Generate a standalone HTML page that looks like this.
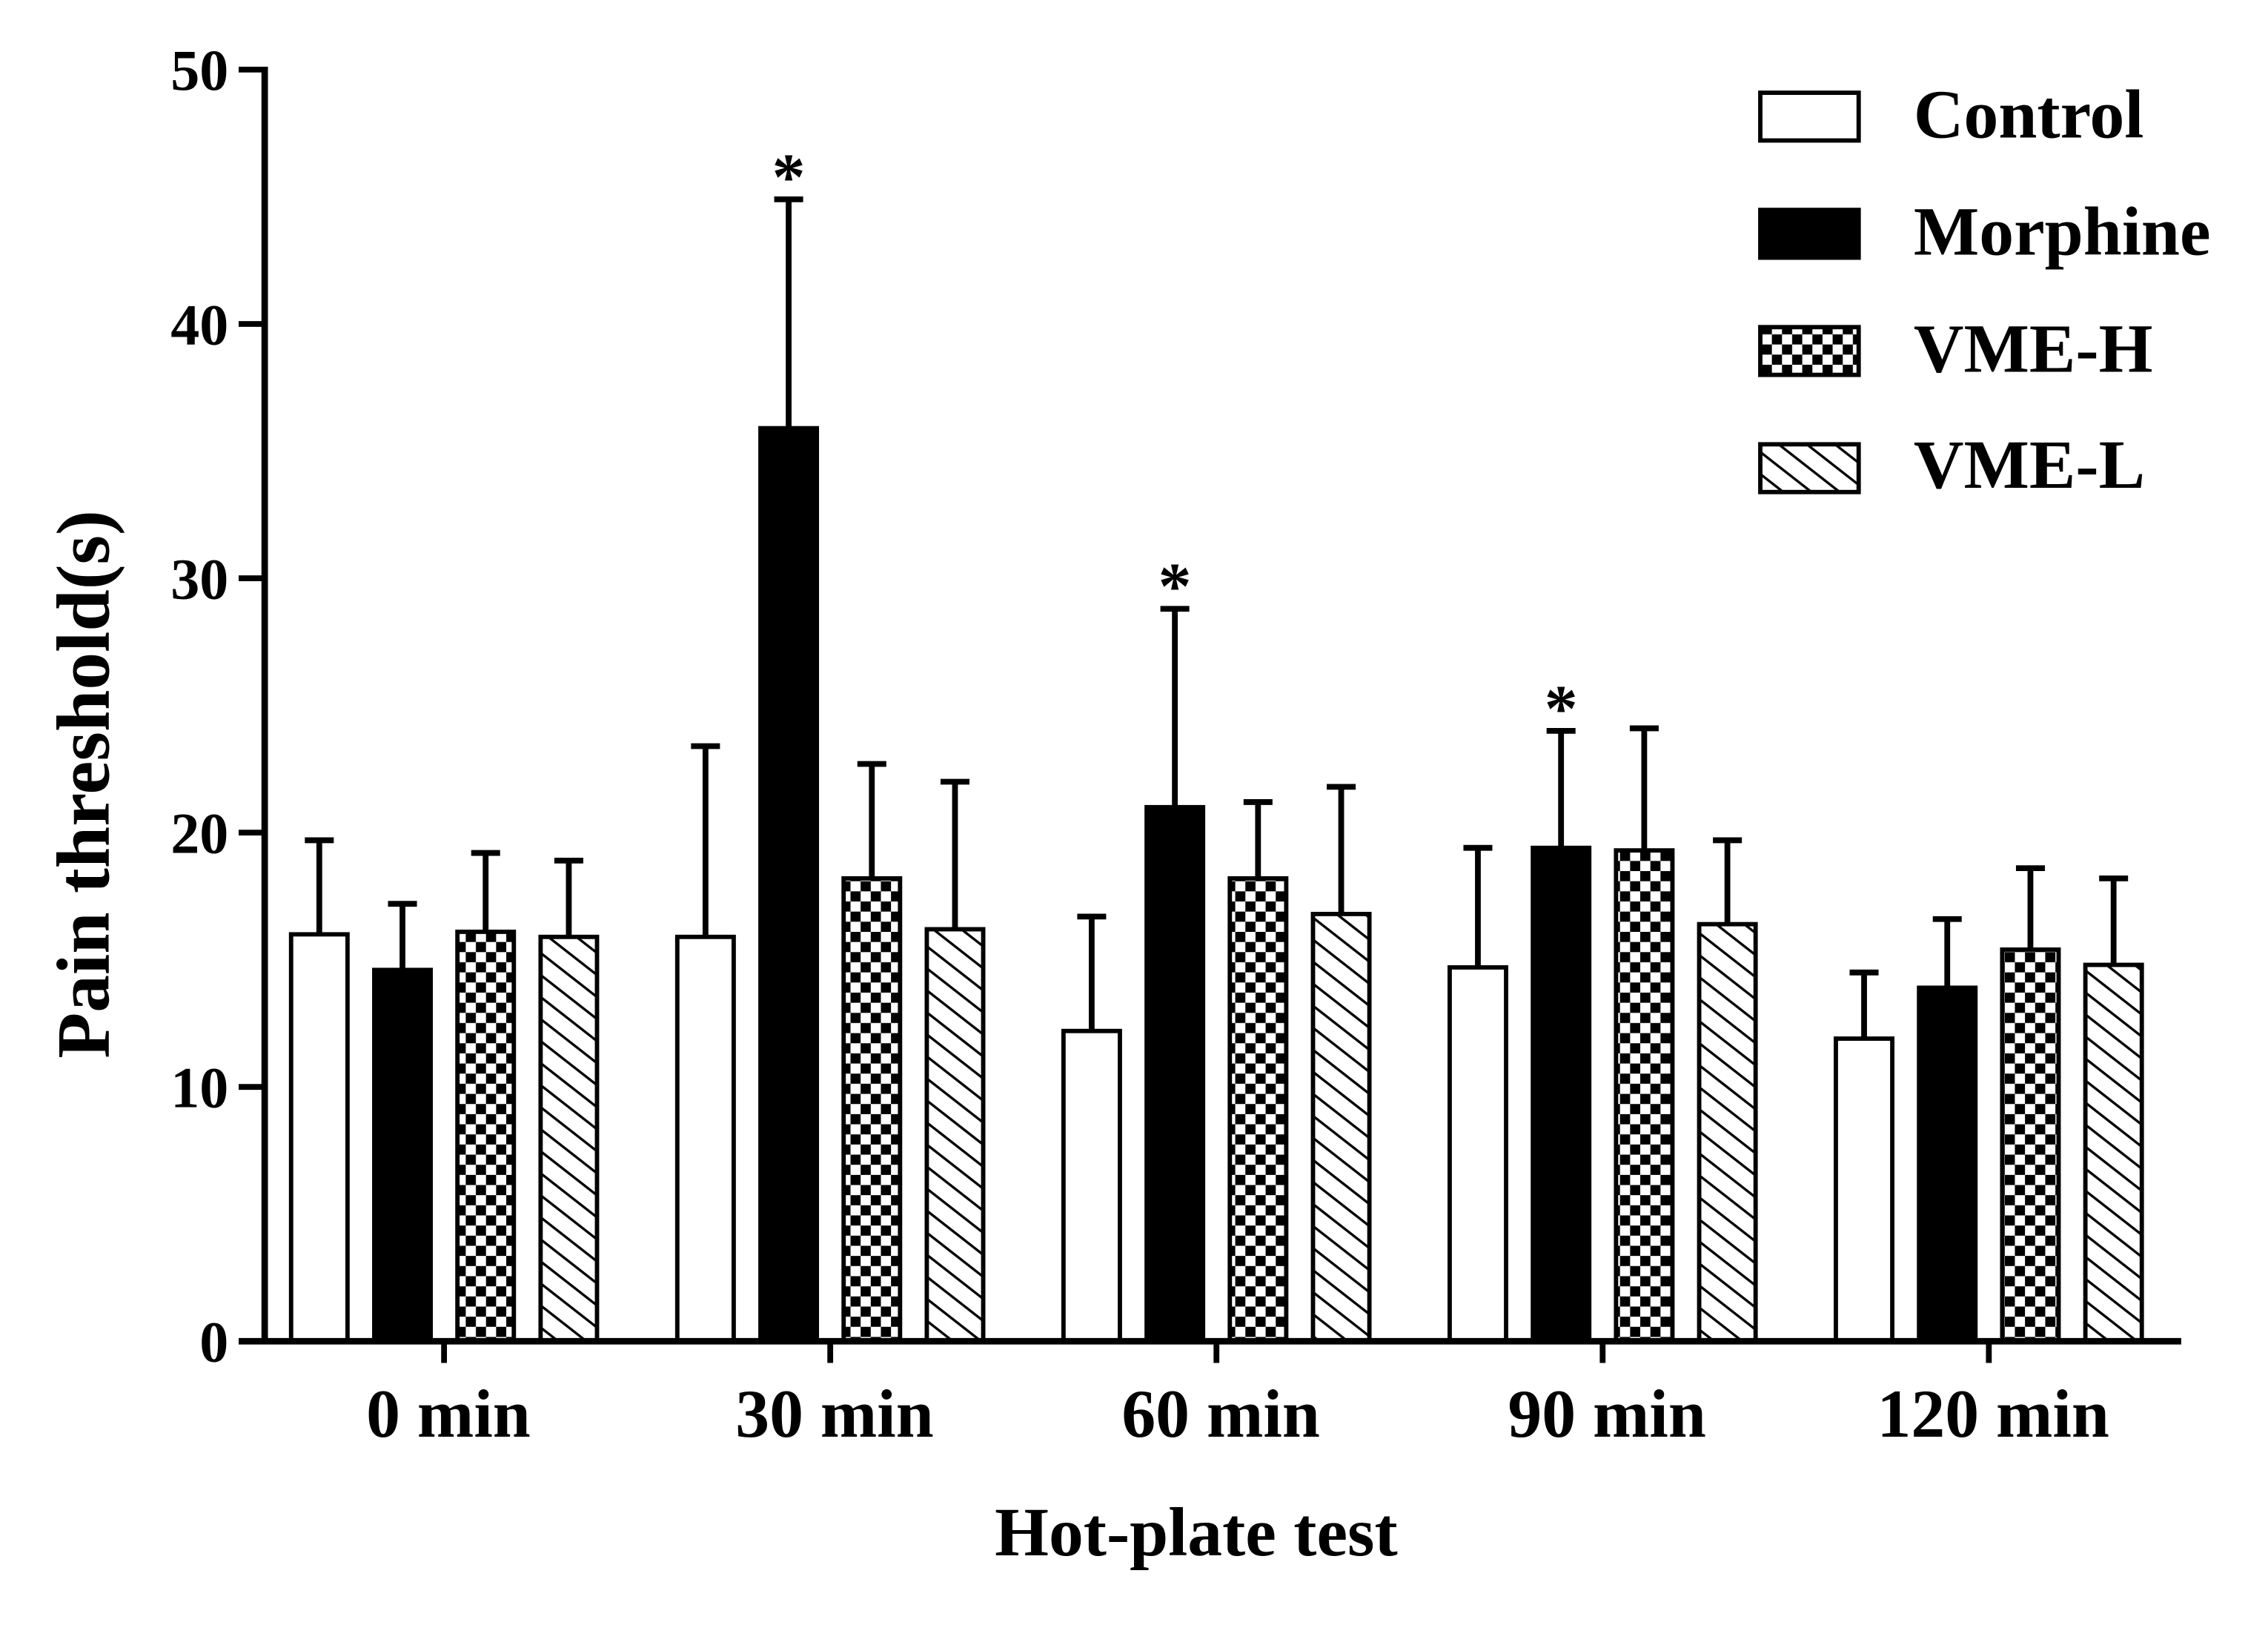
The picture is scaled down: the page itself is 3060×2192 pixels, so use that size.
<!DOCTYPE html>
<html><head><meta charset="utf-8"><style>
html,body{margin:0;padding:0;background:#fff}
svg{display:block}
text{font-family:"Liberation Serif",serif;font-weight:bold;fill:#000}
</style></head><body>
<svg id="chart" width="3060" height="2192" viewBox="0 0 1568 1123" xmlns="http://www.w3.org/2000/svg">
<defs>
<pattern id="checker" patternUnits="userSpaceOnUse" width="14" height="14">
<rect width="14" height="14" fill="#fff"/><rect width="7" height="7" fill="#000"/><rect x="7" y="7" width="7" height="7" fill="#000"/>
</pattern>
<pattern id="hatch" patternUnits="userSpaceOnUse" width="12" height="12" patternTransform="rotate(38)">
<rect width="12" height="12" fill="#fff"/><line x1="0" y1="0" x2="12" y2="0" stroke="#000" stroke-width="3.5"/>
</pattern>
</defs>
<g id="plot"></g>
<text transform="translate(75,542) rotate(-90)" text-anchor="middle" font-size="52">Pain threshold(s)</text>
<text x="827" y="1075" text-anchor="middle" font-size="48">Hot-plate test</text>
<g>
<rect x="1217" y="64" width="68" height="33" fill="#fff" stroke="#000" stroke-width="3"/>
<text x="1323" y="95" font-size="48">Control</text>
<rect x="1217" y="145" width="68" height="33" fill="#000" stroke="#000" stroke-width="3"/>
<text x="1323" y="176" font-size="48">Morphine</text>
<rect x="1217" y="226" width="68" height="33" fill="url(#checker)" stroke="#000" stroke-width="3"/>
<text x="1323" y="257" font-size="48">VME-H</text>
<rect x="1217" y="307" width="68" height="33" fill="url(#hatch)" stroke="#000" stroke-width="3"/>
<text x="1323" y="337" font-size="48">VME-L</text>
</g>
</svg>
<script>
const categories = ["0 min","30 min","60 min","90 min","120 min"];
const seriesNames = ["Control","Morphine","VME-H","VME-L"];
const controlMean = [16.0,15.9,12.2,14.7,11.9];
const controlErr = [3.7,7.5,4.5,4.7,2.6];
const morphineMean = [14.6,35.9,21.0,19.4,13.9];
const morphineErr = [2.6,9.0,7.8,4.6,2.7];
const vmehMean = [16.1,18.2,18.2,19.3,15.4];
const vmehErr = [3.1,4.5,3.0,4.8,3.2];
const vmelMean = [15.9,16.2,16.8,16.4,14.8];
const vmelErr = [3.0,5.8,5.0,3.3,3.4];
const significant = [false,true,true,true,false];
const yTicks = [0,10,20,30,40,50];

const NS="http://www.w3.org/2000/svg";
const g=document.getElementById('plot');
const y0=927, yTop=48, yMax=50;
const yScale=v=>y0-(v/yMax)*(y0-yTop);
const groupX=i=>307+i*267;
const barW=39, pitch=57.5;
function mk(tag,attrs){const e=document.createElementNS(NS,tag);for(const k in attrs)e.setAttribute(k,attrs[k]);g.appendChild(e);return e;}
const means=[controlMean,morphineMean,vmehMean,vmelMean];
const errs=[controlErr,morphineErr,vmehErr,vmelErr];
const fills=["#fff","#000","url(#checker)","url(#hatch)"];
const keys=["control","morphine","vme-h","vme-l"];
categories.forEach((c,i)=>{
  for(let s=0;s<4;s++){
    const cx=groupX(i)+(s-1.5)*pitch;
    const top=yScale(means[s][i]), et=yScale(means[s][i]+errs[s][i]);
    const eb=mk('line',{x1:cx,x2:cx,y1:top,y2:et,stroke:'#000','stroke-width':4});
    
    
    const cap=mk('line',{x1:cx-10,x2:cx+10,y1:et,y2:et,stroke:'#000','stroke-width':4});
    
    
    const r=mk('rect',{x:cx-barW/2,y:top,width:barW,height:y0-top,fill:fills[s],stroke:'#000','stroke-width':3});
    
    
    if(s===1&&significant[i]){
      const st=mk('text',{x:cx,y:et,'text-anchor':'middle','font-size':46});
      st.textContent='*';
      
      
    }
  }
  const t=mk('line',{x1:groupX(i),x2:groupX(i),y1:y0,y2:942,stroke:'#000','stroke-width':4});
  
  
  const l=mk('text',{x:groupX(i)+3,y:993,'text-anchor':'middle','font-size':47});
  l.textContent=c;
  
  
});
yTicks.forEach((v,i)=>{
  const y=yScale(v);
  const t=mk('line',{x1:165,x2:183,y1:y,y2:y,stroke:'#000','stroke-width':4});
  
  
  const l=mk('text',{x:158,y:y+14,'text-anchor':'end','font-size':40});
  l.textContent=v;
  
  
});
const ya=mk('line',{x1:183,x2:183,y1:yTop-2,y2:y0+2,stroke:'#000','stroke-width':4.5});


const xa=mk('line',{x1:165,x2:1508,y1:y0,y2:y0,stroke:'#000','stroke-width':4.5});


</script>
</body></html>
